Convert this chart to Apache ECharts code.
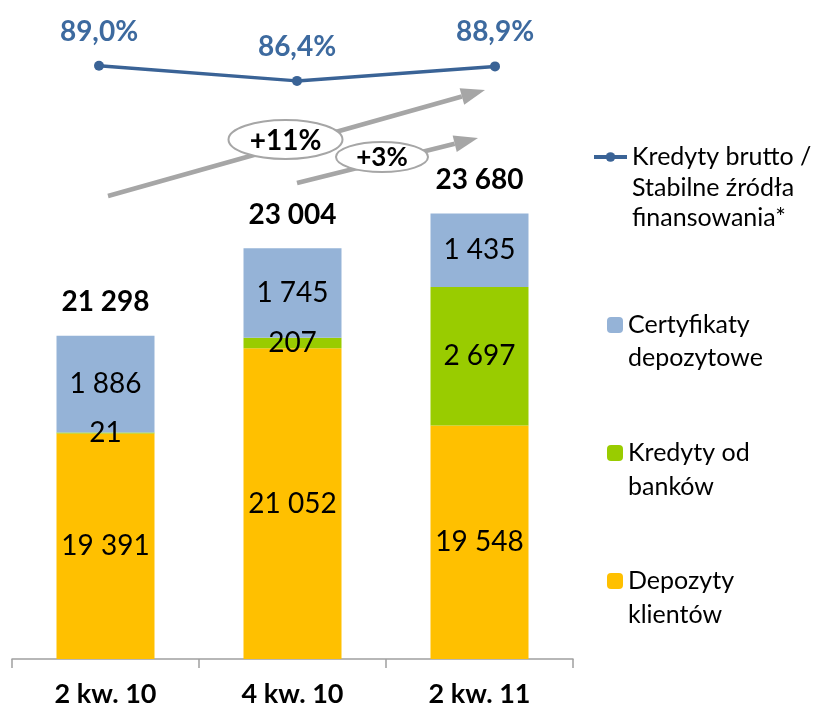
<!DOCTYPE html>
<html>
<head>
<meta charset="utf-8">
<script src="https://cdn.jsdelivr.net/npm/echarts@6/dist/echarts.min.js"></script>
<style>
html,body{margin:0;padding:0;background:#fff;}
#main{width:815px;height:714px;}
</style>
</head>
<body>
<div id="main"></div>
<script>
const categories = ['2 kw. 10', '4 kw. 10', '2 kw. 11'];
const depozytyKlientow = [19391, 21052, 19548];
const kredytyOdBankow = [21, 207, 2697];
const certyfikaty = [1886, 1745, 1435];
const kredytyRatio = [89.0, 86.4, 88.9];
const growthLabels = ['+11%', '+3%'];

const totals = categories.map((c, i) => depozytyKlientow[i] + kredytyOdBankow[i] + certyfikaty[i]);

const FONT = 'Lato, "Noto Sans", sans-serif';
const fmtNum = v => String(v).replace(/\B(?=(\d{3})+(?!\d))/g, ' ');
const fmtPct = v => v.toFixed(1).replace('.', ',') + '%';

const NAME_LINE = 'Kredyty brutto / Stabilne źródła finansowania*';
const NAME_CD = 'Certyfikaty depozytowe';
const NAME_KB = 'Kredyty od banków';
const NAME_DK = 'Depozyty klientów';
const legendLines = {};
legendLines[NAME_LINE] = ['Kredyty brutto /', 'Stabilne źródła', 'finansowania*'];
legendLines[NAME_CD] = ['Certyfikaty', 'depozytowe'];
legendLines[NAME_KB] = ['Kredyty od', 'banków'];
legendLines[NAME_DK] = ['Depozyty', 'klientów'];

function arrow(x1, y1, x2, y2) {
  const dx = x2 - x1, dy = y2 - y1, len = Math.hypot(dx, dy);
  const ux = dx / len, uy = dy / len, nx = -uy, ny = ux;
  const hl = 24, hw = 8.5;
  const bx = x2 - ux * hl, by = y2 - uy * hl;
  return [
    {type: 'line', z: 1, shape: {x1: x1, y1: y1, x2: bx, y2: by}, style: {stroke: '#A6A6A6', lineWidth: 4.5}},
    {type: 'polygon', z: 1, shape: {points: [[x2, y2], [bx + nx * hw, by + ny * hw], [bx - nx * hw, by - ny * hw]]}, style: {fill: '#A6A6A6'}}
  ];
}
function bubble(cx, cy, rx, ry, text, fs) {
  return [
    {type: 'ellipse', z: 2, shape: {cx: cx, cy: cy, rx: rx, ry: ry}, style: {fill: '#fff', stroke: '#A6A6A6', lineWidth: 2}},
    {type: 'text', z: 3, x: cx, y: cy + 1, style: {text: text, fill: '#000', font: 'bold ' + fs + 'px ' + FONT, align: 'center', verticalAlign: 'middle'}}
  ];
}

// Legend: blank lines are prepended so the icon lines up with the first text line
function mkLegend(name, left, firstLineY, lh, iw, ih) {
  const n = legendLines[name].length;
  const boxH = (2 * n - 1) * lh;
  return {
    data: [name],
    orient: 'vertical',
    left: left - 5,
    top: firstLineY - boxH / 2 - 5,
    itemWidth: iw,
    itemHeight: ih,
    lineStyle: {width: 4},
    formatter: nm => '\n'.repeat(n - 1) + legendLines[nm].join('\n'),
    selectedMode: false,
    textStyle: {fontFamily: FONT, fontSize: 25, color: '#000', lineHeight: lh}
  };
}

const chart = echarts.init(document.getElementById('main'));
const barLabel = {
  show: true, position: 'inside', color: '#000', fontFamily: FONT, fontSize: 28,
  formatter: p => fmtNum(p.value)
};

chart.setOption({
  backgroundColor: '#fff',
  animation: false,
  grid: [
    {left: 12, right: 242, top: 43, bottom: 55},
    {left: 99, right: 320, top: 60, height: 58}
  ],
  xAxis: [
    {type: 'category', gridIndex: 0, data: categories,
     axisLine: {lineStyle: {color: '#A0A0A0', width: 1.5}},
     axisTick: {show: true, length: 9, lineStyle: {color: '#A0A0A0', width: 1.5}},
     axisLabel: {margin: 22, color: '#000', fontWeight: 'bold', fontSize: 27, fontFamily: FONT}},
    {type: 'category', gridIndex: 1, data: categories, boundaryGap: false, show: false}
  ],
  yAxis: [
    {type: 'value', gridIndex: 0, min: 15000, max: 27000, show: false, splitLine: {show: false}},
    {type: 'value', gridIndex: 1, min: 80, max: 90, show: false, splitLine: {show: false}}
  ],
  legend: [
    mkLegend(NAME_LINE, 592, 157, 30.5, 33, 12),
    mkLegend(NAME_CD, 607, 325, 32.5, 16, 16),
    mkLegend(NAME_KB, 607, 453, 33.5, 16, 16),
    mkLegend(NAME_DK, 607, 581, 33.5, 16, 16)
  ],
  series: [
    {name: NAME_DK, type: 'bar', stack: 'a', data: depozytyKlientow, barWidth: 98,
     itemStyle: {color: '#FFC000'}, label: barLabel},
    {name: NAME_KB, type: 'bar', stack: 'a', data: kredytyOdBankow, barWidth: 98,
     itemStyle: {color: '#99CC00'}, label: barLabel},
    {name: NAME_CD, type: 'bar', stack: 'a', data: certyfikaty, barWidth: 98,
     itemStyle: {color: '#95B3D7'}, label: barLabel},
    {name: 'Suma', type: 'line', data: totals, symbol: 'circle', symbolSize: 1,
     itemStyle: {color: 'rgba(0,0,0,0)'}, lineStyle: {width: 0, opacity: 0},
     label: {show: true, position: 'top', distance: 19, color: '#000', fontWeight: 'bold', fontSize: 28, fontFamily: FONT,
             formatter: p => fmtNum(p.value)}},
    {name: NAME_LINE, type: 'line', xAxisIndex: 1, yAxisIndex: 1, data: kredytyRatio,
     symbol: 'circle', symbolSize: 10, lineStyle: {color: '#3A6396', width: 3.5},
     itemStyle: {color: '#3A6396'},
     label: {show: true, position: 'top', distance: 15, color: '#3D6A9F', fontWeight: 'bold', fontSize: 28, fontFamily: FONT,
             formatter: p => fmtPct(p.value)}}
  ],
  graphic: [].concat(
    arrow(108, 196, 485, 90),
    arrow(297, 183, 478, 138),
    bubble(285.5, 139.5, 57, 19.5, growthLabels[0], 28),
    bubble(382, 157, 46, 15, growthLabels[1], 26)
  )
});
</script>
</body>
</html>
